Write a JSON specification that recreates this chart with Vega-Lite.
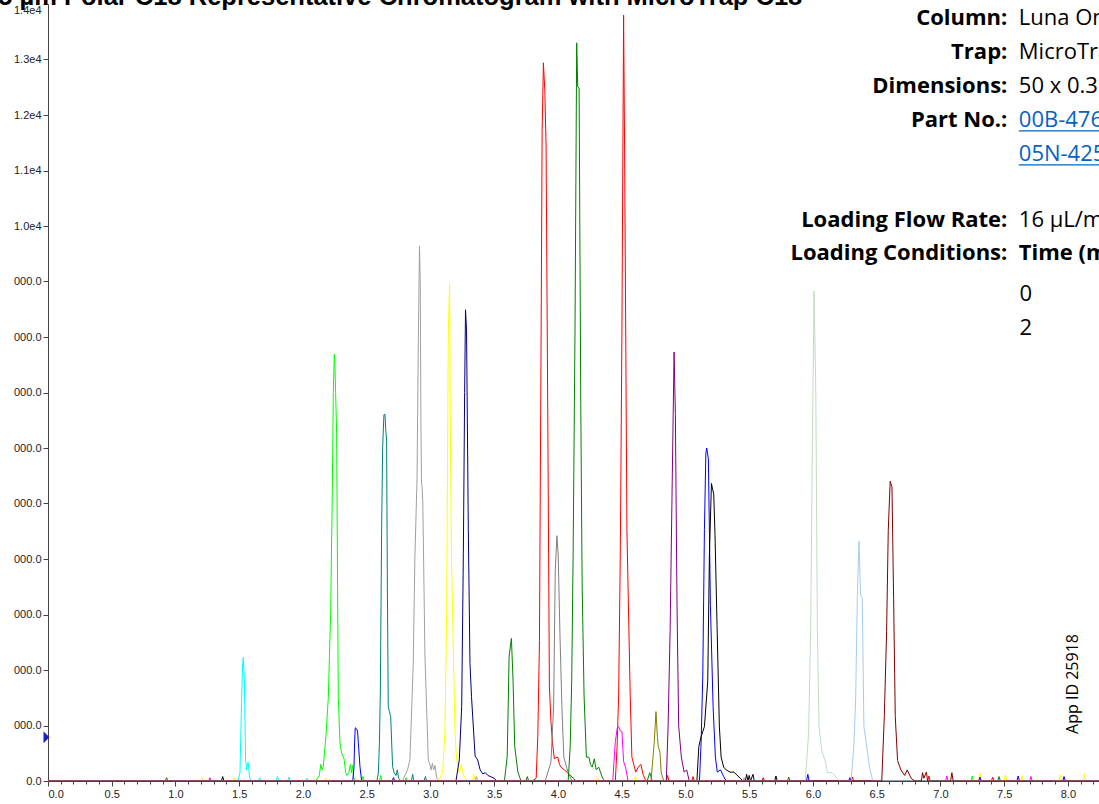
{
  "$schema": "https://vega.github.io/schema/vega-lite/v6.json",
  "width": 1051,
  "height": 777,
  "autosize": {"type": "none"},
  "padding": {"left": 48, "top": 4, "right": 0, "bottom": 23},
  "background": "white",
  "config": {"view": {"stroke": null}},
  "resolve": {"axis": {"x": "independent"}},
  "datasets": {
    "traces": [
      {"s":"a01","t":0,"v":0},{"s":"a01","t":1.49,"v":0},{"s":"a01","t":1.506,"v":150},{"s":"a01","t":1.519,"v":1520},{"s":"a01","t":1.527,"v":2120},{"s":"a01","t":1.532,"v":2230},{"s":"a01","t":1.536,"v":2000},{"s":"a01","t":1.54,"v":1820},{"s":"a01","t":1.55,"v":380},{"s":"a01","t":1.558,"v":200},{"s":"a01","t":1.566,"v":330},{"s":"a01","t":1.571,"v":330},{"s":"a01","t":1.579,"v":100},{"s":"a01","t":1.59,"v":0},{"s":"a01","t":1.65,"v":0},{"s":"a01","t":1.66,"v":60},{"s":"a01","t":1.67,"v":0},{"s":"a01","t":1.79,"v":0},{"s":"a01","t":1.8,"v":90},{"s":"a01","t":1.81,"v":0},{"s":"a01","t":1.88,"v":0},{"s":"a01","t":1.89,"v":70},{"s":"a01","t":1.9,"v":0},{"s":"a01","t":2.02,"v":0},{"s":"a01","t":2.03,"v":50},{"s":"a01","t":2.04,"v":0},{"s":"a01","t":8.244,"v":0},
      {"s":"a02","t":0,"v":0},{"s":"a02","t":2.1,"v":0},{"s":"a02","t":2.128,"v":100},{"s":"a02","t":2.14,"v":300},{"s":"a02","t":2.15,"v":200},{"s":"a02","t":2.159,"v":260},{"s":"a02","t":2.18,"v":800},{"s":"a02","t":2.199,"v":1510},{"s":"a02","t":2.217,"v":3030},{"s":"a02","t":2.23,"v":5200},{"s":"a02","t":2.238,"v":7000},{"s":"a02","t":2.246,"v":7690},{"s":"a02","t":2.25,"v":7500},{"s":"a02","t":2.256,"v":7000},{"s":"a02","t":2.264,"v":6270},{"s":"a02","t":2.272,"v":3320},{"s":"a02","t":2.277,"v":1520},{"s":"a02","t":2.29,"v":690},{"s":"a02","t":2.303,"v":500},{"s":"a02","t":2.322,"v":400},{"s":"a02","t":2.335,"v":150},{"s":"a02","t":2.345,"v":100},{"s":"a02","t":2.36,"v":150},{"s":"a02","t":2.372,"v":300},{"s":"a02","t":2.38,"v":150},{"s":"a02","t":2.388,"v":280},{"s":"a02","t":2.398,"v":60},{"s":"a02","t":2.41,"v":0},{"s":"a02","t":2.46,"v":0},{"s":"a02","t":2.47,"v":80},{"s":"a02","t":2.48,"v":0},{"s":"a02","t":2.6,"v":0},{"s":"a02","t":2.61,"v":100},{"s":"a02","t":2.62,"v":0},{"s":"a02","t":2.8,"v":0},{"s":"a02","t":2.81,"v":60},{"s":"a02","t":2.82,"v":0},{"s":"a02","t":7.24,"v":0},{"s":"a02","t":7.25,"v":90},{"s":"a02","t":7.26,"v":0},{"s":"a02","t":8.244,"v":0},
      {"s":"a03","t":0,"v":0},{"s":"a03","t":2.39,"v":0},{"s":"a03","t":2.4,"v":230},{"s":"a03","t":2.405,"v":700},{"s":"a03","t":2.41,"v":960},{"s":"a03","t":2.42,"v":940},{"s":"a03","t":2.428,"v":900},{"s":"a03","t":2.434,"v":700},{"s":"a03","t":2.447,"v":260},{"s":"a03","t":2.46,"v":0},{"s":"a03","t":2.7,"v":0},{"s":"a03","t":2.71,"v":60},{"s":"a03","t":2.72,"v":0},{"s":"a03","t":8.244,"v":0},
      {"s":"a04","t":0,"v":0},{"s":"a04","t":2.58,"v":0},{"s":"a04","t":2.591,"v":140},{"s":"a04","t":2.6,"v":700},{"s":"a04","t":2.607,"v":1640},{"s":"a04","t":2.617,"v":4520},{"s":"a04","t":2.625,"v":6020},{"s":"a04","t":2.635,"v":6600},{"s":"a04","t":2.643,"v":6610},{"s":"a04","t":2.65,"v":6300},{"s":"a04","t":2.656,"v":6145},{"s":"a04","t":2.662,"v":3500},{"s":"a04","t":2.669,"v":1340},{"s":"a04","t":2.678,"v":1250},{"s":"a04","t":2.688,"v":1160},{"s":"a04","t":2.703,"v":260},{"s":"a04","t":2.715,"v":150},{"s":"a04","t":2.73,"v":100},{"s":"a04","t":2.74,"v":200},{"s":"a04","t":2.75,"v":50},{"s":"a04","t":2.77,"v":0},{"s":"a04","t":2.85,"v":0},{"s":"a04","t":2.86,"v":120},{"s":"a04","t":2.87,"v":0},{"s":"a04","t":2.95,"v":0},{"s":"a04","t":2.96,"v":80},{"s":"a04","t":2.97,"v":0},{"s":"a04","t":8.244,"v":0},
      {"s":"a05","t":0,"v":0},{"s":"a05","t":2.78,"v":0},{"s":"a05","t":2.8,"v":100},{"s":"a05","t":2.82,"v":200},{"s":"a05","t":2.839,"v":380},{"s":"a05","t":2.865,"v":2120},{"s":"a05","t":2.878,"v":4040},{"s":"a05","t":2.895,"v":5480},{"s":"a05","t":2.905,"v":8000},{"s":"a05","t":2.914,"v":9640},{"s":"a05","t":2.92,"v":9000},{"s":"a05","t":2.925,"v":6500},{"s":"a05","t":2.93,"v":5350},{"s":"a05","t":2.934,"v":5330},{"s":"a05","t":2.94,"v":5000},{"s":"a05","t":2.957,"v":2240},{"s":"a05","t":2.983,"v":380},{"s":"a05","t":2.995,"v":300},{"s":"a05","t":3.005,"v":200},{"s":"a05","t":3.015,"v":320},{"s":"a05","t":3.025,"v":200},{"s":"a05","t":3.035,"v":280},{"s":"a05","t":3.05,"v":50},{"s":"a05","t":3.07,"v":0},{"s":"a05","t":3.35,"v":0},{"s":"a05","t":3.36,"v":80},{"s":"a05","t":3.37,"v":0},{"s":"a05","t":5.45,"v":0},{"s":"a05","t":5.46,"v":60},{"s":"a05","t":5.47,"v":0},{"s":"a05","t":8.244,"v":0},
      {"s":"a06","t":0,"v":0},{"s":"a06","t":1.2,"v":0},{"s":"a06","t":1.21,"v":50},{"s":"a06","t":1.22,"v":0},{"s":"a06","t":1.45,"v":0},{"s":"a06","t":1.46,"v":60},{"s":"a06","t":1.47,"v":0},{"s":"a06","t":2.17,"v":0},{"s":"a06","t":2.18,"v":50},{"s":"a06","t":2.19,"v":0},{"s":"a06","t":3.06,"v":0},{"s":"a06","t":3.096,"v":150},{"s":"a06","t":3.114,"v":920},{"s":"a06","t":3.127,"v":3020},{"s":"a06","t":3.14,"v":8100},{"s":"a06","t":3.15,"v":8960},{"s":"a06","t":3.155,"v":6500},{"s":"a06","t":3.165,"v":4000},{"s":"a06","t":3.174,"v":2960},{"s":"a06","t":3.192,"v":920},{"s":"a06","t":3.205,"v":380},{"s":"a06","t":3.225,"v":150},{"s":"a06","t":3.24,"v":300},{"s":"a06","t":3.25,"v":200},{"s":"a06","t":3.26,"v":100},{"s":"a06","t":3.29,"v":0},{"s":"a06","t":3.33,"v":0},{"s":"a06","t":3.34,"v":120},{"s":"a06","t":3.35,"v":0},{"s":"a06","t":4.3,"v":0},{"s":"a06","t":4.31,"v":60},{"s":"a06","t":4.32,"v":0},{"s":"a06","t":4.6,"v":0},{"s":"a06","t":4.61,"v":80},{"s":"a06","t":4.62,"v":0},{"s":"a06","t":7.3,"v":0},{"s":"a06","t":7.31,"v":150},{"s":"a06","t":7.32,"v":0},{"s":"a06","t":7.5,"v":0},{"s":"a06","t":7.51,"v":120},{"s":"a06","t":7.52,"v":0},{"s":"a06","t":7.63,"v":0},{"s":"a06","t":7.64,"v":100},{"s":"a06","t":7.65,"v":0},{"s":"a06","t":7.93,"v":0},{"s":"a06","t":7.94,"v":110},{"s":"a06","t":7.95,"v":0},{"s":"a06","t":8.12,"v":0},{"s":"a06","t":8.13,"v":130},{"s":"a06","t":8.14,"v":0},{"s":"a06","t":8.244,"v":0},
      {"s":"a07","t":0,"v":0},{"s":"a07","t":3.2,"v":0},{"s":"a07","t":3.226,"v":380},{"s":"a07","t":3.245,"v":1340},{"s":"a07","t":3.258,"v":4100},{"s":"a07","t":3.268,"v":7000},{"s":"a07","t":3.275,"v":8490},{"s":"a07","t":3.283,"v":8130},{"s":"a07","t":3.297,"v":4520},{"s":"a07","t":3.31,"v":2120},{"s":"a07","t":3.322,"v":1520},{"s":"a07","t":3.35,"v":450},{"s":"a07","t":3.37,"v":380},{"s":"a07","t":3.39,"v":200},{"s":"a07","t":3.41,"v":130},{"s":"a07","t":3.43,"v":150},{"s":"a07","t":3.45,"v":100},{"s":"a07","t":3.5,"v":50},{"s":"a07","t":3.52,"v":0},{"s":"a07","t":8.244,"v":0},
      {"s":"a08","t":0,"v":0},{"s":"a08","t":0.92,"v":0},{"s":"a08","t":0.93,"v":60},{"s":"a08","t":0.94,"v":0},{"s":"a08","t":3.58,"v":0},{"s":"a08","t":3.602,"v":440},{"s":"a08","t":3.617,"v":2250},{"s":"a08","t":3.635,"v":2570},{"s":"a08","t":3.648,"v":1800},{"s":"a08","t":3.661,"v":620},{"s":"a08","t":3.686,"v":160},{"s":"a08","t":3.71,"v":0},{"s":"a08","t":3.75,"v":0},{"s":"a08","t":3.76,"v":80},{"s":"a08","t":3.77,"v":0},{"s":"a08","t":8.244,"v":0},
      {"s":"a09","t":0,"v":0},{"s":"a09","t":3.8,"v":0},{"s":"a09","t":3.829,"v":50},{"s":"a09","t":3.842,"v":800},{"s":"a09","t":3.855,"v":2530},{"s":"a09","t":3.868,"v":8070},{"s":"a09","t":3.876,"v":11710},{"s":"a09","t":3.886,"v":12940},{"s":"a09","t":3.897,"v":12440},{"s":"a09","t":3.907,"v":11440},{"s":"a09","t":3.922,"v":5890},{"s":"a09","t":3.933,"v":1710},{"s":"a09","t":3.945,"v":1070},{"s":"a09","t":3.958,"v":670},{"s":"a09","t":3.972,"v":400},{"s":"a09","t":3.985,"v":420},{"s":"a09","t":3.998,"v":430},{"s":"a09","t":4.012,"v":300},{"s":"a09","t":4.024,"v":250},{"s":"a09","t":4.05,"v":200},{"s":"a09","t":4.07,"v":160},{"s":"a09","t":4.12,"v":50},{"s":"a09","t":4.14,"v":0},{"s":"a09","t":8.244,"v":0},
      {"s":"a10","t":0,"v":0},{"s":"a10","t":3.9,"v":0},{"s":"a10","t":3.945,"v":340},{"s":"a10","t":3.966,"v":1340},{"s":"a10","t":3.979,"v":3800},{"s":"a10","t":3.992,"v":4420},{"s":"a10","t":4.002,"v":4070},{"s":"a10","t":4.016,"v":2620},{"s":"a10","t":4.031,"v":1340},{"s":"a10","t":4.046,"v":430},{"s":"a10","t":4.08,"v":150},{"s":"a10","t":4.11,"v":0},{"s":"a10","t":8.244,"v":0},
      {"s":"a11","t":0,"v":0},{"s":"a11","t":4.08,"v":0},{"s":"a11","t":4.096,"v":620},{"s":"a11","t":4.108,"v":1800},{"s":"a11","t":4.119,"v":4070},{"s":"a11","t":4.134,"v":8160},{"s":"a11","t":4.147,"v":13300},{"s":"a11","t":4.155,"v":12510},{"s":"a11","t":4.166,"v":12480},{"s":"a11","t":4.179,"v":6800},{"s":"a11","t":4.19,"v":3500},{"s":"a11","t":4.205,"v":1530},{"s":"a11","t":4.223,"v":430},{"s":"a11","t":4.243,"v":430},{"s":"a11","t":4.255,"v":300},{"s":"a11","t":4.269,"v":250},{"s":"a11","t":4.285,"v":400},{"s":"a11","t":4.3,"v":200},{"s":"a11","t":4.32,"v":250},{"s":"a11","t":4.35,"v":50},{"s":"a11","t":4.37,"v":0},{"s":"a11","t":4.7,"v":0},{"s":"a11","t":4.72,"v":150},{"s":"a11","t":4.74,"v":0},{"s":"a11","t":5.8,"v":0},{"s":"a11","t":5.81,"v":70},{"s":"a11","t":5.82,"v":0},{"s":"a11","t":7.45,"v":0},{"s":"a11","t":7.46,"v":80},{"s":"a11","t":7.47,"v":0},{"s":"a11","t":8.244,"v":0},
      {"s":"a12","t":0,"v":0},{"s":"a12","t":4.45,"v":0},{"s":"a12","t":4.464,"v":620},{"s":"a12","t":4.476,"v":1530},{"s":"a12","t":4.489,"v":4070},{"s":"a12","t":4.502,"v":8160},{"s":"a12","t":4.515,"v":13800},{"s":"a12","t":4.523,"v":11350},{"s":"a12","t":4.541,"v":4520},{"s":"a12","t":4.567,"v":1530},{"s":"a12","t":4.58,"v":430},{"s":"a12","t":4.61,"v":160},{"s":"a12","t":4.63,"v":250},{"s":"a12","t":4.65,"v":300},{"s":"a12","t":4.67,"v":100},{"s":"a12","t":4.69,"v":0},{"s":"a12","t":4.85,"v":0},{"s":"a12","t":4.86,"v":100},{"s":"a12","t":4.87,"v":0},{"s":"a12","t":5.05,"v":0},{"s":"a12","t":5.06,"v":80},{"s":"a12","t":5.07,"v":0},{"s":"a12","t":5.6,"v":0},{"s":"a12","t":5.61,"v":60},{"s":"a12","t":5.62,"v":0},{"s":"a12","t":6.3,"v":0},{"s":"a12","t":6.31,"v":70},{"s":"a12","t":6.32,"v":0},{"s":"a12","t":6.9,"v":0},{"s":"a12","t":6.91,"v":90},{"s":"a12","t":6.92,"v":0},{"s":"a12","t":7.4,"v":0},{"s":"a12","t":7.41,"v":70},{"s":"a12","t":7.42,"v":0},{"s":"a12","t":8.244,"v":0},
      {"s":"a13","t":0,"v":0},{"s":"a13","t":1.26,"v":0},{"s":"a13","t":1.27,"v":60},{"s":"a13","t":1.28,"v":0},{"s":"a13","t":4.43,"v":0},{"s":"a13","t":4.45,"v":710},{"s":"a13","t":4.465,"v":950},{"s":"a13","t":4.476,"v":980},{"s":"a13","t":4.49,"v":900},{"s":"a13","t":4.502,"v":890},{"s":"a13","t":4.515,"v":350},{"s":"a13","t":4.53,"v":250},{"s":"a13","t":4.55,"v":0},{"s":"a13","t":7.04,"v":0},{"s":"a13","t":7.05,"v":90},{"s":"a13","t":7.06,"v":0},{"s":"a13","t":7.7,"v":0},{"s":"a13","t":7.71,"v":80},{"s":"a13","t":7.72,"v":0},{"s":"a13","t":8.244,"v":0},
      {"s":"a14","t":0,"v":0},{"s":"a14","t":4.73,"v":0},{"s":"a14","t":4.756,"v":710},{"s":"a14","t":4.769,"v":1250},{"s":"a14","t":4.78,"v":800},{"s":"a14","t":4.787,"v":620},{"s":"a14","t":4.8,"v":520},{"s":"a14","t":4.81,"v":150},{"s":"a14","t":4.83,"v":0},{"s":"a14","t":8.244,"v":0},
      {"s":"a15","t":0,"v":0},{"s":"a15","t":4.85,"v":0},{"s":"a15","t":4.864,"v":990},{"s":"a15","t":4.88,"v":2710},{"s":"a15","t":4.896,"v":5350},{"s":"a15","t":4.911,"v":7730},{"s":"a15","t":4.921,"v":6620},{"s":"a15","t":4.934,"v":3160},{"s":"a15","t":4.947,"v":990},{"s":"a15","t":4.968,"v":430},{"s":"a15","t":4.99,"v":160},{"s":"a15","t":5.01,"v":200},{"s":"a15","t":5.03,"v":0},{"s":"a15","t":8.244,"v":0},
      {"s":"a16","t":0,"v":0},{"s":"a16","t":5.11,"v":0},{"s":"a16","t":5.123,"v":700},{"s":"a16","t":5.136,"v":1890},{"s":"a16","t":5.149,"v":4530},{"s":"a16","t":5.16,"v":5900},{"s":"a16","t":5.167,"v":6000},{"s":"a16","t":5.18,"v":5800},{"s":"a16","t":5.196,"v":3160},{"s":"a16","t":5.217,"v":1340},{"s":"a16","t":5.235,"v":430},{"s":"a16","t":5.25,"v":160},{"s":"a16","t":5.275,"v":200},{"s":"a16","t":5.3,"v":80},{"s":"a16","t":5.32,"v":0},{"s":"a16","t":5.95,"v":0},{"s":"a16","t":5.96,"v":120},{"s":"a16","t":5.97,"v":0},{"s":"a16","t":6.28,"v":0},{"s":"a16","t":6.29,"v":60},{"s":"a16","t":6.3,"v":0},{"s":"a16","t":7.3,"v":0},{"s":"a16","t":7.31,"v":70},{"s":"a16","t":7.32,"v":0},{"s":"a16","t":7.6,"v":0},{"s":"a16","t":7.61,"v":90},{"s":"a16","t":7.62,"v":0},{"s":"a16","t":7.96,"v":0},{"s":"a16","t":7.97,"v":80},{"s":"a16","t":7.98,"v":0},{"s":"a16","t":8.244,"v":0},
      {"s":"a17","t":0,"v":0},{"s":"a17","t":1.36,"v":0},{"s":"a17","t":1.37,"v":80},{"s":"a17","t":1.38,"v":0},{"s":"a17","t":5.09,"v":0},{"s":"a17","t":5.105,"v":620},{"s":"a17","t":5.123,"v":800},{"s":"a17","t":5.149,"v":980},{"s":"a17","t":5.175,"v":1800},{"s":"a17","t":5.188,"v":4070},{"s":"a17","t":5.204,"v":5360},{"s":"a17","t":5.214,"v":5250},{"s":"a17","t":5.222,"v":5170},{"s":"a17","t":5.232,"v":4440},{"s":"a17","t":5.248,"v":2800},{"s":"a17","t":5.266,"v":990},{"s":"a17","t":5.28,"v":430},{"s":"a17","t":5.3,"v":250},{"s":"a17","t":5.32,"v":200},{"s":"a17","t":5.35,"v":160},{"s":"a17","t":5.38,"v":160},{"s":"a17","t":5.43,"v":50},{"s":"a17","t":5.45,"v":0},{"s":"a17","t":5.47,"v":0},{"s":"a17","t":5.48,"v":120},{"s":"a17","t":5.49,"v":0},{"s":"a17","t":5.5,"v":100},{"s":"a17","t":5.51,"v":0},{"s":"a17","t":5.53,"v":120},{"s":"a17","t":5.54,"v":0},{"s":"a17","t":5.7,"v":0},{"s":"a17","t":5.71,"v":90},{"s":"a17","t":5.72,"v":0},{"s":"a17","t":8.244,"v":0},
      {"s":"a18","t":0,"v":0},{"s":"a18","t":5.94,"v":0},{"s":"a18","t":5.966,"v":850},{"s":"a18","t":5.982,"v":2690},{"s":"a18","t":5.997,"v":6340},{"s":"a18","t":6.009,"v":8830},{"s":"a18","t":6.023,"v":6960},{"s":"a18","t":6.035,"v":2690},{"s":"a18","t":6.048,"v":980},{"s":"a18","t":6.069,"v":550},{"s":"a18","t":6.095,"v":370},{"s":"a18","t":6.115,"v":150},{"s":"a18","t":6.15,"v":150},{"s":"a18","t":6.19,"v":50},{"s":"a18","t":6.21,"v":0},{"s":"a18","t":8.244,"v":0},
      {"s":"a19","t":0,"v":0},{"s":"a19","t":6.3,"v":0},{"s":"a19","t":6.322,"v":690},{"s":"a19","t":6.335,"v":1460},{"s":"a19","t":6.348,"v":3290},{"s":"a19","t":6.361,"v":4320},{"s":"a19","t":6.374,"v":3350},{"s":"a19","t":6.387,"v":3290},{"s":"a19","t":6.4,"v":980},{"s":"a19","t":6.418,"v":690},{"s":"a19","t":6.444,"v":250},{"s":"a19","t":6.47,"v":0},{"s":"a19","t":8.244,"v":0},
      {"s":"a20","t":0,"v":0},{"s":"a20","t":6.54,"v":0},{"s":"a20","t":6.56,"v":1160},{"s":"a20","t":6.578,"v":2690},{"s":"a20","t":6.591,"v":4510},{"s":"a20","t":6.606,"v":5400},{"s":"a20","t":6.62,"v":5300},{"s":"a20","t":6.633,"v":3290},{"s":"a20","t":6.646,"v":1160},{"s":"a20","t":6.664,"v":370},{"s":"a20","t":6.69,"v":200},{"s":"a20","t":6.72,"v":100},{"s":"a20","t":6.74,"v":200},{"s":"a20","t":6.77,"v":50},{"s":"a20","t":6.8,"v":0},{"s":"a20","t":6.85,"v":0},{"s":"a20","t":6.86,"v":150},{"s":"a20","t":6.87,"v":50},{"s":"a20","t":6.89,"v":160},{"s":"a20","t":6.9,"v":0},{"s":"a20","t":7.08,"v":0},{"s":"a20","t":7.09,"v":150},{"s":"a20","t":7.1,"v":0},{"s":"a20","t":8.244,"v":0}
    ],
    "heading": [
      {"t":-0.39,"v":13982,"txt":"5 µm Polar C18 Representative Chromatogram with MicroTrap C18"}
    ],
    "keys": [
      {"t":7.525,"v":13743,"txt":"Column:"},
      {"t":7.525,"v":13142,"txt":"Trap:"},
      {"t":7.525,"v":12524,"txt":"Dimensions:"},
      {"t":7.525,"v":11911,"txt":"Part No.:"},
      {"t":7.525,"v":10113,"txt":"Loading Flow Rate:"},
      {"t":7.525,"v":9520,"txt":"Loading Conditions:"}
    ],
    "vals": [
      {"t":7.615,"v":13743,"txt":"Luna Omega 5 µm Polar C18"},
      {"t":7.615,"v":13142,"txt":"MicroTrap C18"},
      {"t":7.615,"v":12524,"txt":"50 x 0.3 mm"},
      {"t":7.615,"v":10113,"txt":"16 µL/min"},
      {"t":7.62,"v":8770,"txt":"0"},
      {"t":7.62,"v":8157,"txt":"2"}
    ],
    "links": [
      {"t":7.615,"t2":8.3,"v":11911,"u":11713,"txt":"00B-4760-AF"},
      {"t":7.615,"t2":8.3,"v":11302,"u":11100,"txt":"05N-4252-AF"}
    ],
    "heads": [
      {"t":7.615,"v":9520,"txt":"Time (min)"}
    ],
    "appid": [
      {"t":8.039,"v":1748,"txt":"App ID 25918"}
    ],
    "marker": [
      {"t":-0.012,"v":790}
    ]
  },
  "layer": [
    {
      "data": {"name": "traces"},
      "mark": {"type": "line", "strokeWidth": 1, "clip": true, "interpolate": "linear"},
      "encoding": {
        "x": {
          "field": "t", "type": "quantitative", "title": null,
          "scale": {"domain": [0, 8.244], "nice": false, "zero": false},
          "axis": {
            "orient": "bottom",
            "values": [0,0.5,1,1.5,2,2.5,3,3.5,4,4.5,5,5.5,6,6.5,7,7.5,8],
            "format": ".1f",
            "tickSize": 5,
            "labelOverlap": false,
            "labelFont": "Liberation Sans", "labelFontSize": 11, "labelColor": "#222222",
            "labelPadding": 2,
            "domainColor": "#444444", "tickColor": "#444444", "grid": false, "title": null
          }
        },
        "y": {
          "field": "v", "type": "quantitative", "title": null,
          "scale": {"domain": [0, 14000], "nice": false, "zero": false},
          "axis": {
            "values": [0,500,1000,1500,2000,2500,3000,3500,4000,4500,5000,5500,6000,6500,7000,7500,8000,8500,9000,9500,10000,10500,11000,11500,12000,12500,13000,13500,14000],
            "labelExpr": "datum.value % 1000 != 0 ? '' : (datum.value >= 10000 ? format(datum.value/10000, '.1f') + 'e4' : (datum.value == 0 ? '0.0' : '000.0'))",
            "tickSize": {"condition": {"test": "datum.value % 1000 == 0", "value": 5}, "value": 3},
            "labelBaseline": {"condition": {"test": "datum.value == 14000", "value": "top"}, "value": "middle"},
            "labelOverlap": false,
            "labelFont": "Liberation Sans", "labelFontSize": 11, "labelColor": "#222222",
            "labelPadding": 2,
            "domainColor": "#444444", "tickColor": "#444444", "grid": false, "title": null
          }
        },
        "color": {
          "field": "s", "type": "nominal", "legend": null,
          "scale": {
            "domain": ["a01","a02","a03","a04","a05","a06","a07","a08","a09","a10","a11","a12","a13","a14","a15","a16","a17","a18","a19","a20"],
            "range": ["#00FFFF","#00FF00","#0000FF","#008080","#A0A0A0","#FFFF00","#000080","#008000","#FF0000","#808080","#008000","#FF0000","#FF00FF","#808000","#800080","#0000FF","#000000","#C0DCC0","#A6CAF0","#800000"]
          }
        }
      }
    },
    {
      "data": {"name": "marker"},
      "mark": {"type": "point", "shape": "M-0.5,-1L0.5,0L-0.5,1Z", "filled": true, "size": 144, "color": "#2020C0", "opacity": 1},
      "encoding": {
        "x": {
          "field": "t", "type": "quantitative", "title": null,
          "axis": {
            "orient": "bottom",
            "values": [0.1,0.2,0.3,0.4,0.6,0.7,0.8,0.9,1.1,1.2,1.3,1.4,1.6,1.7,1.8,1.9,2.1,2.2,2.3,2.4,2.6,2.7,2.8,2.9,3.1,3.2,3.3,3.4,3.6,3.7,3.8,3.9,4.1,4.2,4.3,4.4,4.6,4.7,4.8,4.9,5.1,5.2,5.3,5.4,5.6,5.7,5.8,5.9,6.1,6.2,6.3,6.4,6.6,6.7,6.8,6.9,7.1,7.2,7.3,7.4,7.6,7.7,7.8,7.9,8.1,8.2],
            "labels": false,
            "domain": false,
            "tickSize": 3,
            "tickColor": "#444444",
            "grid": false,
            "title": null
          }
        },
        "y": {"field": "v", "type": "quantitative", "title": null}
      }
    },
    {
      "data": {"name": "heading"},
      "mark": {"type": "text", "align": "left", "baseline": "alphabetic", "font": "Liberation Sans", "fontSize": 25.5, "fontWeight": "bold", "color": "#000000"},
      "encoding": {
        "x": {"field": "t", "type": "quantitative", "title": null, "axis": null},
        "y": {"field": "v", "type": "quantitative", "title": null},
        "text": {"field": "txt"}
      }
    },
    {
      "data": {"name": "keys"},
      "mark": {"type": "text", "align": "right", "baseline": "middle", "font": "Open Sans", "fontSize": 22, "fontWeight": "bold", "color": "#000000"},
      "encoding": {
        "x": {"field": "t", "type": "quantitative", "title": null, "axis": null},
        "y": {"field": "v", "type": "quantitative", "title": null},
        "text": {"field": "txt"}
      }
    },
    {
      "data": {"name": "vals"},
      "mark": {"type": "text", "align": "left", "baseline": "middle", "font": "Open Sans", "fontSize": 22, "color": "#000000"},
      "encoding": {
        "x": {"field": "t", "type": "quantitative", "title": null, "axis": null},
        "y": {"field": "v", "type": "quantitative", "title": null},
        "text": {"field": "txt"}
      }
    },
    {
      "data": {"name": "heads"},
      "mark": {"type": "text", "align": "left", "baseline": "middle", "font": "Open Sans", "fontSize": 22, "fontWeight": "bold", "color": "#000000"},
      "encoding": {
        "x": {"field": "t", "type": "quantitative", "title": null, "axis": null},
        "y": {"field": "v", "type": "quantitative", "title": null},
        "text": {"field": "txt"}
      }
    },
    {
      "data": {"name": "links"},
      "mark": {"type": "text", "align": "left", "baseline": "middle", "font": "Open Sans", "fontSize": 22, "color": "#0563C1"},
      "encoding": {
        "x": {"field": "t", "type": "quantitative", "title": null, "axis": null},
        "y": {"field": "v", "type": "quantitative", "title": null},
        "text": {"field": "txt"}
      }
    },
    {
      "data": {"name": "links"},
      "mark": {"type": "rule", "color": "#0563C1", "strokeWidth": 1.2},
      "encoding": {
        "x": {"field": "t", "type": "quantitative", "title": null, "axis": null},
        "x2": {"field": "t2"},
        "y": {"field": "u", "type": "quantitative", "title": null}
      }
    },
    {
      "data": {"name": "appid"},
      "mark": {"type": "text", "align": "center", "baseline": "middle", "angle": 270, "font": "Open Sans", "fontSize": 16, "color": "#000000"},
      "encoding": {
        "x": {"field": "t", "type": "quantitative", "title": null, "axis": null},
        "y": {"field": "v", "type": "quantitative", "title": null},
        "text": {"field": "txt"}
      }
    }
  ]
}
